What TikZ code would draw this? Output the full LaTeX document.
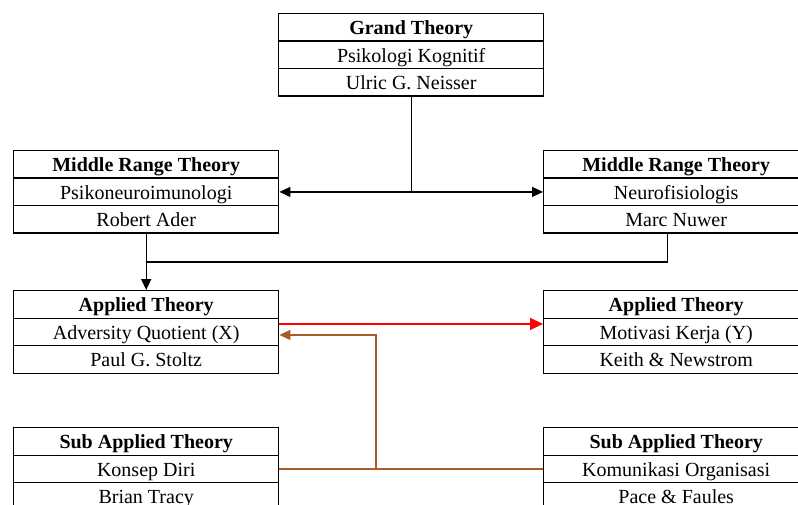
\documentclass[tikz,border=0pt]{standalone}
\usepackage{fontspec}
\setmainfont{Liberation Serif}
\usetikzlibrary{arrows.meta,calc}
\definecolor{rust}{RGB}{166,92,38}
\tikzset{
  cell/.style={draw, line width=1.4pt, minimum width=265pt, minimum height=27.5pt,
    inner sep=0pt, anchor=north west, text height=16pt, text depth=1pt,
    font=\fontsize{20}{22}\selectfont},
  head/.style={cell, font=\fontsize{20}{22}\selectfont\bfseries},
  link/.style={line width=1.4pt},
  tip/.style={-{Triangle[length=11pt,width=10pt]}},
  bigtip/.style={-{Triangle[length=13pt,width=12pt]}}
}
% three stacked cells: heading, theory, author
\newcommand\theorybox[6]{%
  \node[head] (#1-h) at (#2,#3) {#4};
  \node[cell] (#1-a) at (#2,#3+27.5) {#5};
  \node[cell] (#1-b) at (#2,#3+55) {#6};
}
\begin{document}
\begin{tikzpicture}[x=1pt,y=-1pt]
\useasboundingbox (0,0) rectangle (798,505);
\clip (0,0) rectangle (798,505);

\theorybox{g}{278}{13}{Grand Theory}{Psikologi Kognitif}{Ulric G. Neisser}
\theorybox{lm}{13}{150}{Middle Range Theory}{Psikoneuroimunologi}{Robert Ader}
\theorybox{rm}{543}{150}{Middle Range Theory}{Neurofisiologis}{Marc Nuwer}
\theorybox{ap}{13}{290}{Applied Theory}{Adversity Quotient (X)}{Paul G. Stoltz}
\theorybox{aq}{543}{290}{Applied Theory}{Motivasi Kerja (Y)}{Keith \& Newstrom}
\theorybox{sl}{13}{427}{Sub Applied Theory}{Konsep Diri}{Brian Tracy}
\theorybox{sr}{543}{427}{Sub Applied Theory}{Komunikasi Organisasi}{Pace \& Faules}

% grand theory branches to both middle range theories
\draw[link] (g-b.south) -- (g-b.south |- lm-a.east) coordinate (gj);
\draw[link,tip] (gj) -- (lm-a.east);
\draw[link,tip] (gj) -- (rm-a.west);

% middle range theories feed the applied theory
\draw[link,tip] (lm-b.south) -- (ap-h.north);
\coordinate (mj) at ($(lm-b.south)!0.5!(ap-h.north)$);
\draw[link] (mj) -| ([xshift=-9pt]rm-b.south);

% X -> Y
\draw[link,red,bigtip] ([yshift=8pt]ap-a.east) -- ([yshift=8pt]aq-a.west);

% sub applied theories support X
\draw[link,rust] (sl-a.east) -- (sr-a.west);
\coordinate (bj) at ($(sl-a.east)!0.366!(sr-a.west)$);
\draw[link,rust,tip] (bj) |- ([yshift=-3pt]ap-a.east);
\end{tikzpicture}
\end{document}
